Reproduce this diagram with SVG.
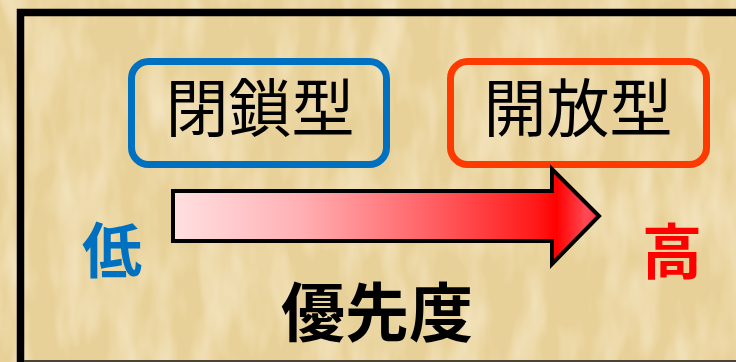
<svg xmlns="http://www.w3.org/2000/svg" width="736" height="362" viewBox="0 0 736 362">
  <defs>
    <linearGradient id="arrowGrad" x1="173" y1="0" x2="599" y2="0" gradientUnits="userSpaceOnUse">
      <stop offset="0" stop-color="#ffe0e2"/>
      <stop offset="0.3" stop-color="#ffb0b4"/>
      <stop offset="0.6" stop-color="#ff6266"/>
      <stop offset="0.85" stop-color="#ff1a1a"/>
      <stop offset="0.9" stop-color="#ff0000"/>
      <stop offset="0.97" stop-color="#ff4a55"/>
      <stop offset="1" stop-color="#ff3040"/>
    </linearGradient>
    <filter id="paper" x="0" y="0" width="100%" height="100%">
      <feTurbulence type="fractalNoise" baseFrequency="0.035 0.012" numOctaves="3" seed="7" result="n"/>
      <feColorMatrix in="n" type="matrix" values="0 0 0 0 0.95  0 0 0 0 0.85  0 0 0 0 0.62  0 0 0 1.4 -0.55" result="c"/>
      <feComposite in="c" in2="SourceGraphic" operator="over"/>
    </filter>
    <style>
      .box { fill: none; stroke-width: 7; }
      .boxText { font-family: "Noto Sans CJK JP", "Noto Sans", sans-serif; font-size: 63px; font-weight: 400; fill: #000; text-anchor: middle; }
      .bold { font-family: "Noto Sans CJK JP", "Noto Sans", sans-serif; font-weight: 700; text-anchor: middle; }
    </style>
  </defs>

  <!-- background -->
  <rect x="0" y="0" width="736" height="362" fill="#e8d198" filter="url(#paper)"/>

  <!-- frame -->
  <rect x="20.5" y="12.5" width="740" height="352" fill="none" stroke="#000" stroke-width="7.5"/>
  <line x1="24" y1="361" x2="736" y2="361" stroke="#4a4438" stroke-width="2"/>

  <g id="node-closed">
    <rect class="box" x="131.5" y="61.5" width="255" height="103" rx="17" stroke="#0070c0"/>
    <text class="boxText" x="260" y="131">閉鎖型</text>
  </g>

  <g id="node-open">
    <rect class="box" x="450.5" y="61.5" width="256" height="103" rx="17" stroke="#ff3a00"/>
    <text class="boxText" x="578" y="131">開放型</text>
  </g>

  <g id="connectors">
    <polygon points="173,191 552,191 552,169 599,216 552,264 552,241 173,241" fill="url(#arrowGrad)" stroke="#000" stroke-width="4" stroke-linejoin="miter"/>
  </g>

  <g id="label-low">
    <text class="bold" x="112" y="273" font-size="60" fill="#0070c0">低</text>
  </g>

  <g id="label-high">
    <text class="bold" x="672" y="274" font-size="60" fill="#ff0000">高</text>
  </g>

  <g id="label-priority">
    <text class="bold" x="377" y="336" font-size="64" fill="#000">優先度</text>
  </g>
</svg>
